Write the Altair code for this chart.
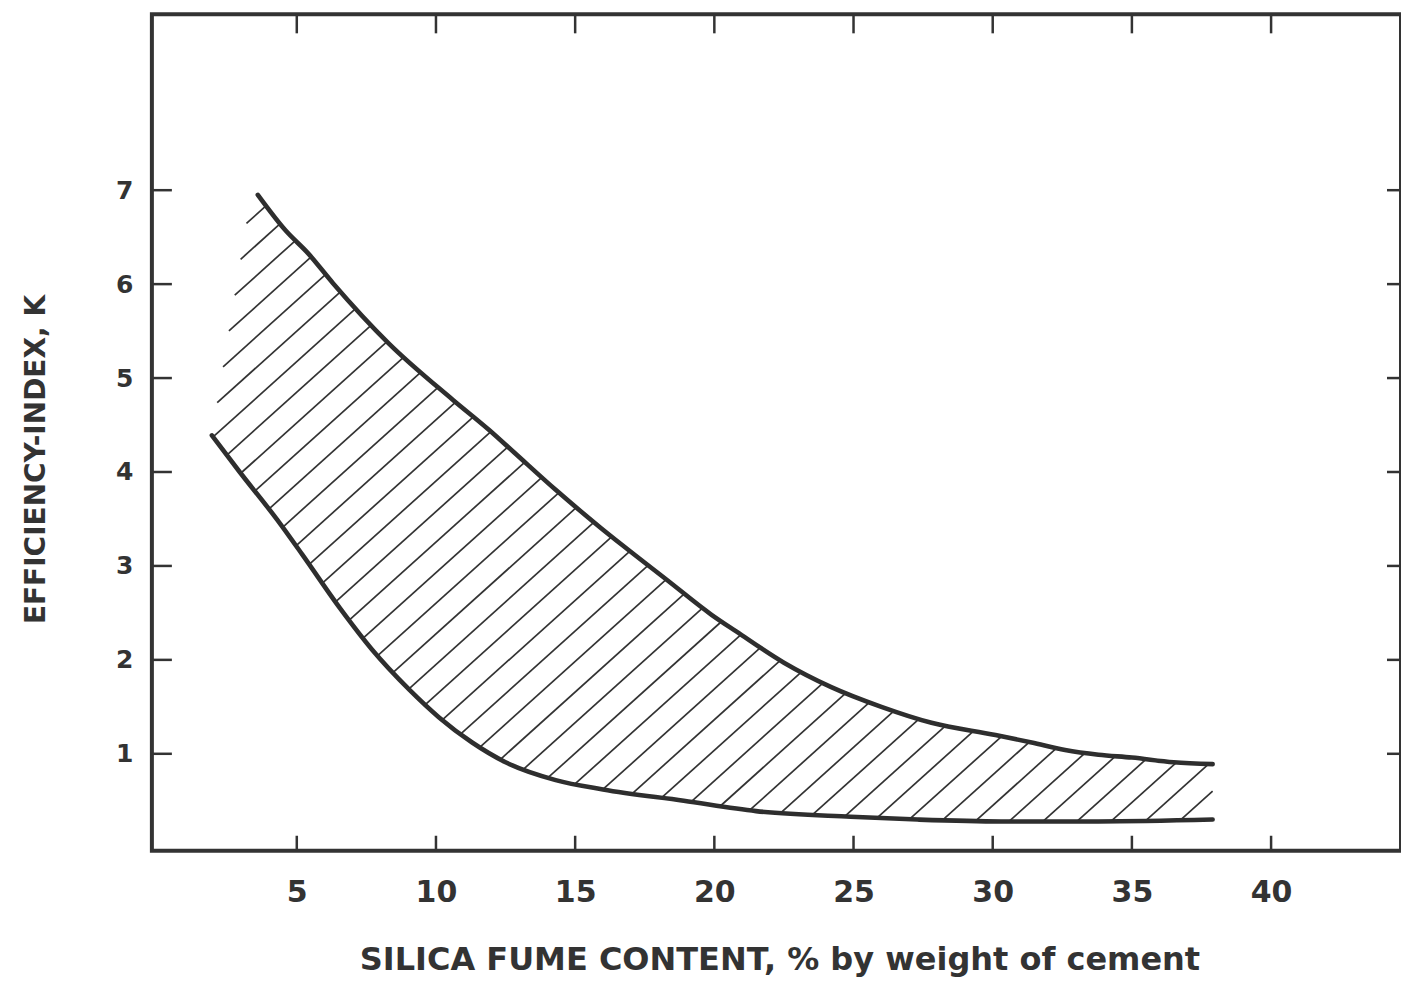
import altair as alt
import pandas as pd

# ---- data ----
upper_x = [3.6, 4.6, 5.4, 6.3, 8.3, 10.6, 11.9, 12.8, 14.3, 15.9, 16.7, 18.3, 19.9,
           20.8, 22.5, 24.2, 26.0, 27.8, 30.1, 31.4, 32.6, 33.8, 35.0, 36.5, 37.9]
upper_y = [6.95, 6.57, 6.33, 6.01, 5.37, 4.77, 4.45, 4.21, 3.81, 3.41, 3.22, 2.85, 2.48,
           2.30, 1.97, 1.71, 1.50, 1.33, 1.20, 1.12, 1.04, 0.99, 0.96, 0.91, 0.89]
lower_x = [1.95, 2.95, 4.3, 5.2, 6.55, 7.7, 9.05, 10.1, 11.3, 12.5, 14.3, 16.0, 18.9,
           21.5, 24.9, 27.3, 30.3, 33.8, 37.9]
lower_y = [4.39, 4.00, 3.49, 3.12, 2.55, 2.11, 1.68, 1.39, 1.12, 0.91, 0.72, 0.62, 0.50,
           0.39, 0.33, 0.30, 0.28, 0.28, 0.30]
# left edge of the hatched band (not outlined)
edge_x = [1.95, 3.25, 3.6]
edge_y = [4.39, 6.75, 6.95]

x_ticks = [5, 10, 15, 20, 25, 30, 35, 40]
y_ticks = [1, 2, 3, 4, 5, 6, 7]

x_title = "SILICA FUME CONTENT, % by weight of cement"
y_title = "EFFICIENCY-INDEX, K"

# ---- layout / style ----
W, H = 1250, 837
x_dom = [-0.205, 44.667]
y_dom = [-0.032, 8.872]
INK = "#333333"
FONT = "DejaVu Sans"

kx = W / (x_dom[1] - x_dom[0])
ky = H / (y_dom[1] - y_dom[0])

# ---- hatch segments clipped to the band ----
poly = list(zip(lower_x, lower_y)) + list(zip(upper_x[::-1], upper_y[::-1])) \
    + list(zip(edge_x[::-1], edge_y[::-1]))[1:]
slope = 0.9          # screen slope of hatch lines
spacing_px = 34      # horizontal spacing of hatch lines in pixels


def f(p):
    return slope * p[0] * kx - p[1] * ky


vals = [f(p) for p in poly]
step = slope * spacing_px
segs = []
c = min(vals) + step * 0.6
n = len(poly)
while c < max(vals):
    pts = []
    for i in range(n):
        a, b = poly[i], poly[(i + 1) % n]
        fa, fb = f(a) - c, f(b) - c
        if (fa > 0) != (fb > 0):
            t = fa / (fa - fb)
            pts.append((a[0] + t * (b[0] - a[0]), a[1] + t * (b[1] - a[1])))
    pts.sort()
    for j in range(0, len(pts) - 1, 2):
        segs.append({"x": pts[j][0], "y": pts[j][1], "x2": pts[j + 1][0], "y2": pts[j + 1][1]})
    c += step
seg_df = pd.DataFrame(segs)

curve_df = pd.concat([
    pd.DataFrame({"x": upper_x, "y": upper_y, "curve": "upper", "order": range(len(upper_x))}),
    pd.DataFrame({"x": lower_x, "y": lower_y, "curve": "lower", "order": range(len(lower_x))}),
])
xt_df = pd.DataFrame({"x": x_ticks})
yt_df = pd.DataFrame({"y": y_ticks})

x_axis = alt.Axis(values=x_ticks, title=x_title, grid=False, ticks=False, domain=False,
                  tickSize=0, labelFont=FONT, labelFontSize=30, labelFontWeight="bold",
                  labelColor=INK, labelPadding=42, labelBaseline="middle", labelFlush=False,
                  titleFont=FONT, titleFontSize=32, titleFontWeight="bold", titleColor=INK,
                  titleX=628, titleY=109, titleBaseline="middle", titleAlign="center")
y_axis = alt.Axis(values=y_ticks, title=y_title, grid=False, ticks=False, domain=False,
                  tickSize=0, labelFont=FONT, labelFontSize=25, labelFontWeight="bold",
                  labelColor=INK, labelPadding=19, labelBaseline="middle", labelFlush=False,
                  titleFont=FONT, titleFontSize=28, titleFontWeight="bold", titleColor=INK,
                  titleX=-115, titleY=445, titleBaseline="middle", titleAlign="center",
                  titleAngle=270)

xs = alt.Scale(domain=x_dom, nice=False, zero=False)
ys = alt.Scale(domain=y_dom, nice=False, zero=False)
X = alt.X("x:Q", scale=xs, axis=x_axis)
Y = alt.Y("y:Q", scale=ys, axis=y_axis)

hatch = alt.Chart(seg_df).mark_rule(color=INK, strokeWidth=1.7).encode(
    x=X, y=Y, x2="x2:Q", y2="y2:Q")

curves = alt.Chart(curve_df).mark_line(color="#2e2e2e", strokeWidth=4.6, interpolate="monotone",
                                       strokeCap="round", strokeJoin="round").encode(
    x=X, y=Y, detail="curve:N", order="order:Q")

tick_style = dict(color=INK, strokeWidth=2.5)
bottom_ticks = alt.Chart(xt_df).mark_rule(**tick_style).encode(
    x=X, y=alt.value(H - 15), y2=alt.value(H))
top_ticks = alt.Chart(xt_df).mark_rule(**tick_style).encode(
    x=X, y=alt.value(0), y2=alt.value(19))
left_ticks = alt.Chart(yt_df).mark_rule(**tick_style).encode(
    y=Y, x=alt.value(0), x2=alt.value(20))
right_ticks = alt.Chart(yt_df).mark_rule(**tick_style).encode(
    y=Y, x=alt.value(W - 14), x2=alt.value(W))

chart = alt.layer(hatch, curves, bottom_ticks, top_ticks, left_ticks, right_ticks).properties(
    width=W, height=H,
    autosize=alt.AutoSizeParams(type="none"),
    padding={"left": 152, "top": 14, "right": 0, "bottom": 131},
    background="white",
).configure_view(stroke=INK, strokeWidth=4)

chart.save("out.html", embed_options={"renderer": "svg", "actions": False})
